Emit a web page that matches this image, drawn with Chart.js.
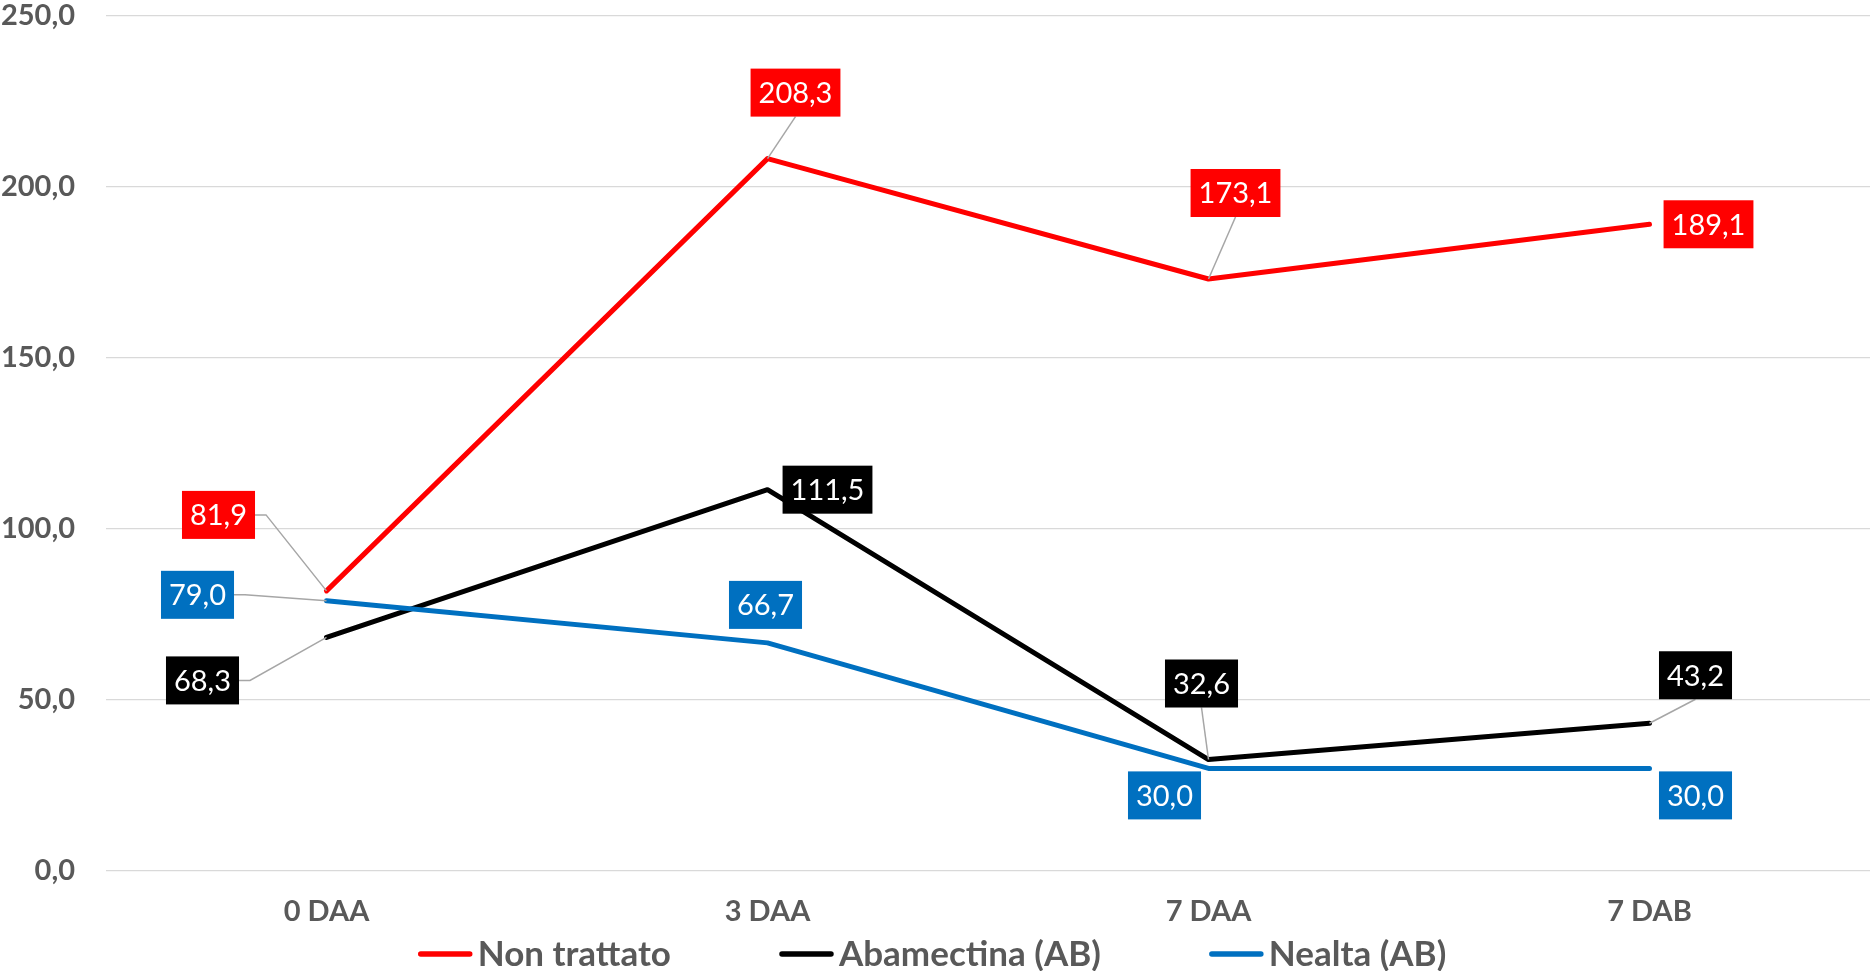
<!DOCTYPE html>
<html lang="it">
<head>
<meta charset="UTF-8">
<title>Grafico</title>
<script src="https://cdn.jsdelivr.net/npm/chart.js"></script>
<style>
  html, body { margin: 0; padding: 0; background: #fff; }
  #box { width: 1870px; height: 971px; }
</style>
</head>
<body>
<div id="box"><canvas id="grafico"></canvas></div>
<script>
  // dati
  const categorie = ['0 DAA', '3 DAA', '7 DAA', '7 DAB'];
  const nonTrattato = [81.9, 208.3, 173.1, 189.1];
  const abamectina = [68.3, 111.5, 32.6, 43.2];
  const nealta = [79.0, 66.7, 30.0, 30.0];
  const nomiSerie = ['Non trattato', 'Abamectina (AB)', 'Nealta (AB)'];
  const tickY = [0, 50, 100, 150, 200, 250];

  const grigio = '#595959';
  const formato = v => v.toFixed(1).replace('.', ',');

  // spostamento delle etichette rispetto al punto (px)
  const spostamenti = [
    [[-108, -76], [28, -66], [27, -86], [59, 0]],
    [[-124, 43], [60, 0], [-7, -76], [46, -48]],
    [[-129, -6], [-2, -38], [-44, 27], [46, 27]]
  ];

  const etichette = {
    id: 'etichette',
    afterDatasetsDraw(chart, args, opts) {
      const ctx = chart.ctx;
      ctx.save();
      ctx.font = '29px Lato';
      ctx.textAlign = 'center';
      ctx.textBaseline = 'middle';
      chart.data.datasets.forEach((ds, i) => {
        const meta = chart.getDatasetMeta(i);
        meta.data.forEach((pt, j) => {
          const [dx, dy] = opts.offsets[i][j];
          const testo = formato(ds.data[j]);
          const w = ctx.measureText(testo).width + 16, h = 48;
          const cx = pt.x + dx, cy = pt.y + dy;
          const l = cx - w / 2, t = cy - h / 2;
          const gx = Math.max(l - pt.x, pt.x - (l + w), 0);
          const gy = Math.max(t - pt.y, pt.y - (t + h), 0);
          if (Math.hypot(gx, gy) > 20) {
            ctx.beginPath();
            ctx.strokeStyle = '#A6A6A6';
            ctx.lineWidth = 1.5;
            if (Math.abs(dx) > Math.abs(dy)) {
              const sx = dx < 0 ? l + w : l;
              ctx.moveTo(sx, cy);
              ctx.lineTo(sx + (dx < 0 ? 11 : -11), cy);
            } else {
              ctx.moveTo(cx, dy < 0 ? t + h : t);
            }
            ctx.lineTo(pt.x, pt.y);
            ctx.stroke();
          }
          ctx.fillStyle = ds.borderColor;
          ctx.fillRect(l, t, w, h);
          ctx.fillStyle = '#fff';
          ctx.fillText(testo, cx, cy + 1);
        });
      });
      ctx.restore();
    }
  };

  const legenda = {
    id: 'legenda',
    afterDraw(chart, args, opts) {
      const ctx = chart.ctx;
      ctx.save();
      ctx.font = 'bold 35px Lato';
      ctx.textBaseline = 'middle';
      const lw = 55, gap = 5, sep = 108;
      const voci = chart.data.datasets.map(ds => ({ ds, w: lw + gap + ctx.measureText(ds.label).width }));
      const tot = voci.reduce((s, v) => s + v.w, 0) + sep * (voci.length - 1);
      let x = (chart.width - tot) / 2 - 3;
      voci.forEach(v => {
        ctx.strokeStyle = v.ds.borderColor;
        ctx.lineWidth = 5.5;
        ctx.lineCap = 'round';
        ctx.beginPath();
        ctx.moveTo(x + 3, opts.y);
        ctx.lineTo(x + lw - 3, opts.y);
        ctx.stroke();
        ctx.fillStyle = grigio;
        ctx.fillText(v.ds.label, x + lw + gap, opts.y + 1);
        x += v.w + sep;
      });
      ctx.restore();
    }
  };

  const fontAssi = { family: 'Lato', weight: 'bold', size: 29 };

  const dados = {
    labels: categorie,
    datasets: [
      { label: nomiSerie[0], data: nonTrattato, borderColor: '#FF0000', backgroundColor: '#FF0000', order: 3 },
      { label: nomiSerie[1], data: abamectina, borderColor: '#000000', backgroundColor: '#000000', order: 2 },
      { label: nomiSerie[2], data: nealta, borderColor: '#0070C0', backgroundColor: '#0070C0', order: 1 }
    ].map(ds => Object.assign(ds, {
      borderWidth: 5,
      pointRadius: 0,
      tension: 0,
      borderJoinStyle: 'round',
      borderCapStyle: 'round'
    }))
  };

  const config = {
    type: 'line',
    data: dados,
    options: {
      responsive: true,
      maintainAspectRatio: false,
      animation: false,
      layout: { padding: { top: 0, left: 0, right: 0, bottom: 40 } },
      scales: {
        x: {
          offset: true,
          grid: { display: false, drawTicks: false },
          border: { display: false },
          ticks: { font: fontAssi, color: grigio, padding: 23 },
          afterFit(s) { s.height = 60; }
        },
        y: {
          min: tickY[0],
          max: tickY[tickY.length - 1],
          afterBuildTicks(s) { s.ticks = tickY.map(v => ({ value: v })); },
          grid: { color: '#D9D9D9', lineWidth: 1.3, drawTicks: false },
          border: { display: false },
          ticks: { font: fontAssi, color: grigio, padding: 31, callback: v => formato(v) },
          afterFit(s) {
            s.width = 106;
            s.paddingTop = 16;
            s.paddingBottom = 0;
          }
        }
      },
      plugins: {
        legend: { display: false },
        tooltip: { enabled: false },
        etichette: { offsets: spostamenti },
        legenda: { y: 954 }
      }
    },
    plugins: [etichette, legenda]
  };

  new Chart(document.getElementById('grafico'), config);
</script>
</body>
</html>
